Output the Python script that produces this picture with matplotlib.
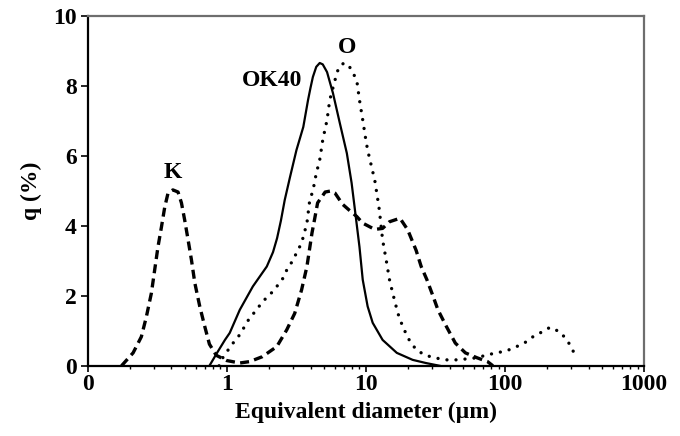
import matplotlib
matplotlib.use("Agg")
import matplotlib.pyplot as plt
from matplotlib.ticker import FixedLocator, FixedFormatter, LogLocator, NullFormatter

# K (dashed)
k_x = [0.175, 0.212, 0.243, 0.264, 0.287, 0.303, 0.32, 0.339, 0.358, 0.378, 0.41,
       0.446, 0.472, 0.498, 0.527, 0.557, 0.589, 0.64, 0.695, 0.75, 0.84, 1.0,
       1.24, 1.46, 1.8, 2.29, 2.7, 3.08, 3.45, 3.77, 4.1, 4.27, 4.5, 5.1, 5.6, 6.0,
       6.8, 7.6, 8.6, 9.5, 11.6, 13.2, 14.8, 17.6, 20.0, 23.0, 25.0, 27.5, 30.5,
       33.0, 38.0, 44.0, 52.0, 63.0, 75.0, 82.0]
k_y = [0.0, 0.37, 0.83, 1.4, 2.08, 2.74, 3.4, 3.97, 4.54, 4.94, 5.03,
       4.97, 4.66, 4.17, 3.6, 3.03, 2.37, 1.69, 1.12, 0.62, 0.3, 0.15,
       0.08, 0.12, 0.26, 0.55, 1.03, 1.5, 2.17, 2.84, 3.8, 4.17, 4.66, 4.97, 5.0, 4.94,
       4.62, 4.45, 4.27, 4.08, 3.9, 3.93, 4.12, 4.22, 3.89, 3.3, 2.84, 2.46, 1.98,
       1.6, 1.12, 0.65, 0.37, 0.23, 0.12, 0.0]

# OK40 (solid)
ok_x = [0.75, 0.86, 0.97, 1.05, 1.24, 1.54, 1.94, 2.15, 2.3, 2.45, 2.61, 2.85, 3.17,
        3.55, 3.84, 4.0, 4.16, 4.4, 4.66, 4.9, 5.26, 5.8, 6.5, 7.3, 7.9, 8.3, 9.0,
        9.5, 10.3, 11.2, 13.2, 16.7, 21.7, 27.0, 34.0]
ok_y = [0.0, 0.4, 0.74, 0.94, 1.6, 2.27, 2.84, 3.25, 3.65, 4.15, 4.74, 5.4, 6.17,
        6.83, 7.6, 7.95, 8.26, 8.55, 8.66, 8.62, 8.4, 7.8, 6.94, 6.08, 5.23, 4.54, 3.4,
        2.46, 1.7, 1.23, 0.74, 0.37, 0.17, 0.08, 0.0]

# O (dotted)
o_x = [0.88, 0.936, 1.0, 1.11, 1.24, 1.46, 1.64, 1.8, 2.04, 2.29, 2.5, 2.7, 2.95,
       3.45, 3.77, 3.95, 4.16, 4.4, 4.66, 4.9, 5.26, 5.5, 6.0, 6.3, 6.6, 7.0, 7.5,
       7.9, 8.6, 9.0, 9.5, 10.0, 10.3, 11.6, 12.2, 12.5, 13.2, 14.0, 14.8, 15.6,
       17.0, 18.5, 20.5, 23.0, 26.5, 31.0, 38.0, 45.0, 54.0, 63.0, 74.0, 87.0,
       103.0, 120.0, 139.0, 159.0, 185.0, 211.0, 249.0, 279.0, 303.0, 324.0]
o_y = [0.0, 0.23, 0.4, 0.65, 0.89, 1.37, 1.6, 1.83, 2.03, 2.27, 2.46, 2.74, 2.98,
       3.51, 4.08, 4.74, 5.0, 5.5, 5.89, 6.46, 7.03, 7.6, 8.17, 8.46, 8.6, 8.66, 8.6,
       8.45, 8.17, 7.6, 7.03, 6.46, 6.17, 5.3, 4.74, 4.46, 3.6, 3.03, 2.46, 2.08,
       1.5, 1.1, 0.74, 0.46, 0.31, 0.23, 0.17, 0.17, 0.2, 0.23, 0.31, 0.37,
       0.43, 0.54, 0.66, 0.83, 0.97, 1.1, 0.97, 0.74, 0.51, 0.23]

x_ticks = [0.1, 1, 10, 100, 1000]
x_tick_labels = ["0", "1", "10", "100", "1000"]
y_ticks = [0, 2, 4, 6, 8, 10]

plt.rcParams['font.family'] = ['Liberation Serif', 'DejaVu Serif']
plt.rcParams['font.weight'] = 'bold'

FS = 17

fig = plt.figure(figsize=(6.8, 4.36), dpi=100)
ax = fig.add_axes([0.129, 0.161, 0.818, 0.802])

ax.plot(k_x, k_y, color='black', lw=2.4, linestyle=(0, (2.7, 1.6)))
ax.plot(ok_x, ok_y, color='black', lw=1.6, linestyle='-')
ax.plot(o_x, o_y, color='black', lw=2.4, linestyle=(0, (0.01, 2.7)),
        dash_capstyle='round')

ax.set_xscale('log')
ax.set_xlim(0.1, 1000)
ax.set_ylim(0, 10)
ax.xaxis.set_major_locator(FixedLocator(x_ticks))
ax.xaxis.set_major_formatter(FixedFormatter(x_tick_labels))
ax.xaxis.set_minor_locator(LogLocator(base=10, subs=range(2, 10)))
ax.xaxis.set_minor_formatter(NullFormatter())
ax.set_yticks(y_ticks)

ax.tick_params(axis='both', which='major', labelsize=FS, direction='out', width=1.2,
               color='black')
ax.tick_params(axis='x', which='major', length=4, pad=2)
ax.tick_params(axis='x', which='minor', length=2.5, width=1)
ax.tick_params(axis='y', which='major', length=5, pad=3)
for lab in ax.get_xticklabels() + ax.get_yticklabels():
    lab.set_fontweight('bold')

for s in ['left', 'bottom']:
    ax.spines[s].set_color('black')
    ax.spines[s].set_linewidth(1.6)
for s in ['top', 'right']:
    ax.spines[s].set_color('#6e6e6e')
    ax.spines[s].set_linewidth(1.6)

ax.set_xlabel('Equivalent diameter (µm)', fontsize=FS, fontweight='bold', labelpad=5)
ax.set_ylabel('q (%)', fontsize=FS, fontweight='bold', labelpad=8)

ax.text(0.41, 5.54, 'K', fontsize=FS, fontweight='bold', ha='center', va='center')
ax.text(3.5, 8.17, 'OK40', fontsize=FS, fontweight='bold', ha='right', va='center')
ax.text(7.3, 9.11, 'O', fontsize=FS, fontweight='bold', ha='center', va='center')

fig.savefig('out.png', dpi=100)
